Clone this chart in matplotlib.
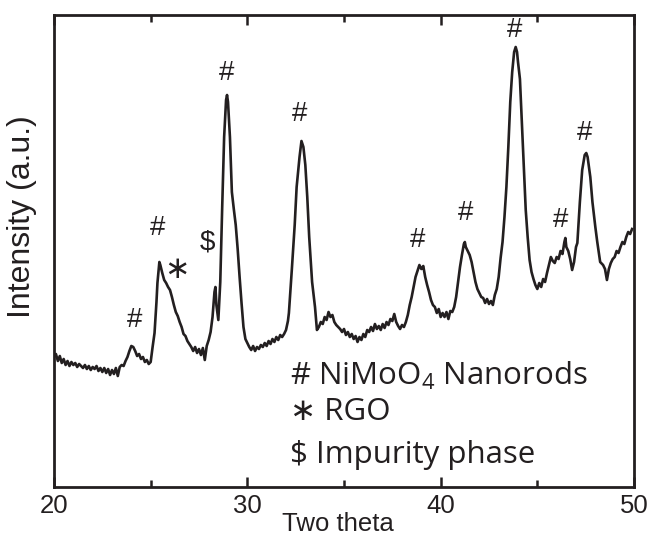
import matplotlib
matplotlib.use("Agg")
import matplotlib.pyplot as plt
from matplotlib.ticker import MultipleLocator

# ---- data (2theta, intensity a.u.) ----
two_theta = [
    20.0, 20.1, 20.2, 20.3, 20.4, 20.5, 20.6, 20.7, 20.8, 20.9,
    21.0, 21.1, 21.2, 21.3, 21.4, 21.5, 21.6, 21.7, 21.8, 21.9,
    22.0, 22.1, 22.2, 22.3, 22.4, 22.5, 22.6, 22.7, 22.8, 22.9,
    23.0, 23.1, 23.2, 23.3, 23.4, 23.5, 23.6, 23.7, 23.8, 23.9,
    24.0, 24.1, 24.2, 24.3, 24.4, 24.5, 24.6, 24.7, 24.8, 24.9,
    25.0, 25.1, 25.2, 25.3, 25.35, 25.45, 25.5, 25.6, 25.7, 25.8, 25.9,
    26.0, 26.1, 26.2, 26.3, 26.4, 26.5, 26.6, 26.7, 26.8, 26.9,
    27.0, 27.1, 27.2, 27.3, 27.4, 27.5, 27.6, 27.7, 27.8, 27.9,
    28.0, 28.1, 28.2, 28.3, 28.35, 28.4, 28.5, 28.6, 28.7, 28.8, 28.9, 28.95,
    29.0, 29.1, 29.2, 29.3, 29.4, 29.5, 29.6, 29.7, 29.8, 29.9,
    30.0, 30.1, 30.2, 30.3, 30.4, 30.5, 30.6, 30.7, 30.8, 30.9,
    31.0, 31.1, 31.2, 31.3, 31.4, 31.5, 31.6, 31.7, 31.8, 31.9,
    32.0, 32.1, 32.15, 32.3, 32.45, 32.55, 32.7, 32.8, 32.9,
    33.0, 33.1, 33.2, 33.35, 33.5, 33.6, 33.7, 33.8, 33.9,
    34.0, 34.1, 34.2, 34.3, 34.4, 34.5, 34.6, 34.7, 34.8, 34.9,
    35.0, 35.1, 35.2, 35.3, 35.4, 35.5, 35.6, 35.7, 35.8, 35.9,
    36.0, 36.1, 36.2, 36.3, 36.4, 36.5, 36.6, 36.7, 36.8, 36.9,
    37.0, 37.1, 37.2, 37.3, 37.4, 37.5, 37.6, 37.7, 37.8, 37.9,
    38.0, 38.1, 38.2, 38.3, 38.4, 38.5, 38.6, 38.7, 38.8, 38.9,
    39.0, 39.1, 39.2, 39.3, 39.4, 39.5, 39.6, 39.7, 39.8, 39.9,
    40.0, 40.1, 40.2, 40.3, 40.4, 40.5, 40.6, 40.7, 40.8, 40.9,
    41.0, 41.1, 41.2, 41.25, 41.3, 41.4, 41.5, 41.6, 41.7, 41.8, 41.9,
    42.0, 42.1, 42.2, 42.3, 42.4, 42.5, 42.6, 42.7, 42.8, 42.9,
    43.0, 43.1, 43.2, 43.3, 43.4, 43.5, 43.6, 43.7, 43.8, 43.88, 43.95,
    44.0, 44.1, 44.2, 44.25, 44.3, 44.4, 44.5, 44.6, 44.7, 44.8, 44.9,
    45.0, 45.1, 45.2, 45.3, 45.4, 45.5, 45.6, 45.7, 45.8, 45.9,
    46.0, 46.1, 46.2, 46.3, 46.4, 46.45, 46.5, 46.6, 46.7, 46.8, 46.9,
    47.0, 47.07, 47.2, 47.32, 47.45, 47.53, 47.6, 47.74, 47.85,
    48.0, 48.1, 48.25, 48.4, 48.5, 48.6, 48.7, 48.8, 48.9,
    49.0, 49.1, 49.2, 49.3, 49.4, 49.5, 49.6, 49.7, 49.8, 49.9,
]
intensity = [
    130, 133, 126, 131, 124, 128, 122, 126, 121, 125,
    122, 124, 120, 123, 121, 119, 122, 118, 121, 117,
    120, 118, 121, 116, 119, 115, 119, 114, 118, 112,
    117, 113, 119, 111, 120, 122, 121, 126, 130, 136,
    141, 140, 136, 131, 133, 128, 130, 125, 127, 123,
    125, 140, 154, 185, 204, 225, 222, 214, 207, 204, 200,
    197, 190, 182, 175, 171, 165, 160, 153, 151, 146,
    143, 140, 136, 140, 134, 138, 132, 139, 127, 141,
    147, 155, 170, 195, 200, 182, 167, 205, 280, 350, 387, 392,
    385, 350, 295, 278, 262, 238, 210, 184, 160, 148,
    144, 140, 137, 141, 136, 140, 138, 142, 140, 144,
    141, 146, 143, 148, 145, 150, 147, 152, 150, 153,
    157, 166, 174, 217, 262, 300, 330, 346, 340,
    322, 290, 250, 205, 180, 157, 160, 165, 163,
    170, 167, 175, 170, 172, 165, 162, 160, 158, 155,
    158, 152, 155, 150, 153, 148, 151, 145, 150, 147,
    153, 150, 157, 155, 160, 156, 163, 158, 161, 157,
    163, 159, 165, 162, 168, 166, 173, 165, 161, 158,
    162, 160, 165, 172, 182, 190, 200, 210, 216, 222,
    218, 221, 210, 202, 195, 187, 182, 180, 174, 178,
    170, 174, 170, 175, 168, 176, 175, 180, 190, 205,
    220, 232, 243, 245, 240, 236, 232, 225, 215, 205, 198,
    194, 190, 189, 184, 188, 183, 186, 182, 192, 198,
    210, 229, 245, 270, 300, 340, 385, 415, 435, 440, 435,
    425, 408, 365, 344, 320, 277, 250, 227, 215, 208, 202,
    198, 204, 200, 208, 205, 214, 222, 230, 226, 224,
    230, 228, 236, 233, 245, 249, 240, 236, 228, 217, 225,
    240, 244, 285, 317, 332, 334, 330, 310, 285,
    260, 245, 225, 222, 218, 207, 218, 224, 228,
    230, 236, 234, 240, 245, 243, 250, 255, 253, 258,
]

# peak marks: (symbol, 2theta, intensity)
mark_symbols = ["#", "#", "∗", "$", "#", "#", "#", "#", "#", "#", "#"]
mark_x = [24.17, 25.35, 26.38, 27.92, 28.95, 32.71, 38.78, 41.30, 43.83, 46.19, 47.43]
mark_y = [167, 259, 217, 244, 414, 373, 247, 274, 457, 267, 354]

legend_lines = ["# NiMoO$_4$ Nanorods", "∗ RGO", "$ Impurity phase"]
x_ticks = [20, 30, 40, 50]

INK = "#231f20"
plt.rcParams["mathtext.fontset"] = "custom"
plt.rcParams["mathtext.rm"] = "Open Sans"
plt.rcParams["mathtext.default"] = "regular"

fig = plt.figure(figsize=(6.49, 5.38), dpi=100)
ax = fig.add_axes([54 / 649, 1 - 487 / 538, 580 / 649, 472 / 538])

ax.plot(two_theta, intensity, color=INK, lw=1.9, solid_joinstyle="round")

for s, xx, yy in zip(mark_symbols, mark_x, mark_y):
    ax.text(xx, yy, s.replace("$", r"\$"), ha="center", va="center",
            fontsize=20 if s != "∗" else 22,
            family=["Liberation Sans", "DejaVu Sans"], color=INK)

ax.set_xlim(20, 50)
ax.set_ylim(0, 472)
ax.set_xticks(x_ticks)
ax.xaxis.set_minor_locator(MultipleLocator(5))
ax.set_yticks([])
ax.tick_params(axis="x", which="both", direction="in", top=True,
               width=1.8, labelsize=18.5, pad=5, colors=INK)
ax.tick_params(axis="x", which="major", length=7)
ax.tick_params(axis="x", which="minor", length=5)
for lbl in ax.get_xticklabels():
    lbl.set_family("Liberation Sans")
for sp in ax.spines.values():
    sp.set_linewidth(2.0)
    sp.set_color(INK)

ax.set_xlabel("Two theta", fontsize=18.5, family="Liberation Sans", color=INK, va="center")
ax.xaxis.set_label_coords((338 - 54) / 580, (487 - 524) / 472)
ax.set_ylabel("Intensity (a.u.)", fontsize=23, family="Liberation Sans", color=INK, va="center")
ax.yaxis.set_label_coords((22 - 54) / 580, (487 - 217) / 472)

baselines = [385, 420, 463]
for txt, py in zip(legend_lines, baselines):
    t = txt if not txt.startswith("$") else r"\$" + txt[1:]
    ax.text(290 / 649, 1 - py / 538, t, transform=fig.transFigure, ha="left", va="baseline",
            fontsize=22.5, family=["Open Sans", "DejaVu Sans"], color=INK)

fig.savefig("out.png", dpi=100)
